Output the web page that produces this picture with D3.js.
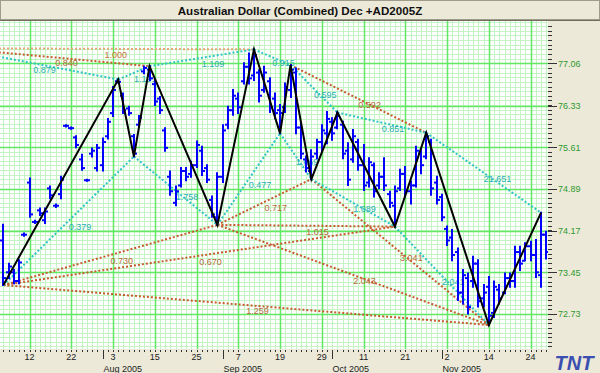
<!DOCTYPE html>
<html><head><meta charset="utf-8">
<script src="https://cdn.jsdelivr.net/npm/d3@7"></script>
<style>
body{margin:0;background:#ece9d8;overflow:hidden}
svg{display:block;font-family:"Liberation Sans",Arial,sans-serif}
</style>
</head><body>
<svg id="c" width="600" height="373"></svg>
<script>
// ---------------- data ----------------
const title = "Australian Dollar (Combined) Dec +AD2005Z";

// daily OHLC bars (bar index = array position, Jul 5 2005 .. Nov 28 2005)
const highs  = [74.27,73.60,73.49,73.66,74.12,75.07,74.34,74.55,74.55,74.93,74.62,75.10,75.99,75.95,75.80,75.48,75.05,75.59,75.65,75.76,
                76.10,76.65,76.78,76.54,76.31,75.82,76.15,77.00,77.01,76.77,76.48,75.94,75.19,74.93,75.25,75.25,75.36,75.71,75.62,75.30,
                74.76,75.16,75.99,76.31,76.60,76.54,77.06,77.23,77.30,76.94,77.00,76.80,76.54,76.34,76.71,77.03,76.97,76.02,75.45,75.56,
                75.74,75.99,76.22,76.11,76.21,76.05,75.68,75.91,75.74,75.65,75.42,75.33,75.16,75.42,74.84,74.93,75.22,75.27,75.02,75.62,
                75.56,75.86,75.74,75.10,74.79,74.24,74.18,73.86,73.49,73.43,73.72,73.66,73.23,73.37,73.29,73.23,73.43,73.43,73.89,73.89,
                73.95,73.98,74.01,74.48,74.15];
const lows   = [73.23,73.35,73.26,73.26,74.08,74.41,74.30,74.44,74.30,74.73,74.58,74.73,75.97,75.93,75.61,75.22,75.03,75.45,75.21,75.21,
                75.76,76.15,76.73,76.20,76.17,75.45,75.97,76.89,76.77,76.34,76.20,75.55,74.79,74.61,74.93,75.04,75.10,75.27,75.13,75.01,
                74.41,74.27,75.01,75.94,76.17,76.20,76.71,76.71,76.77,76.40,76.57,76.22,76.11,75.85,76.22,76.48,75.85,75.42,75.19,75.06,
                75.42,75.53,75.68,75.74,75.94,75.42,74.96,75.36,75.22,74.87,74.93,74.76,74.90,74.87,74.58,74.24,74.87,74.76,74.64,74.93,
                75.16,75.42,74.79,74.64,74.35,73.92,73.66,72.97,72.91,72.74,73.20,72.86,72.86,72.54,72.68,72.91,73.09,73.20,73.20,73.49,
                73.66,73.66,73.37,73.20,73.69];
const opens  = [74.00,73.45,73.45,73.30,74.10,75.00,74.32,74.52,74.35,74.90,74.60,74.80,75.98,75.94,75.78,75.40,75.04,75.50,75.25,75.30,
                75.80,76.20,76.75,76.50,76.28,75.80,76.00,76.92,76.95,76.70,76.45,75.90,75.10,74.65,74.95,75.20,75.15,75.30,75.55,75.25,
                74.70,74.40,75.10,76.00,76.25,76.45,76.75,77.00,76.85,76.90,76.60,76.75,76.45,76.25,76.30,76.60,76.90,75.95,75.40,75.20,
                75.50,75.70,75.85,76.05,75.95,76.00,75.55,75.40,75.70,75.30,75.00,75.30,74.95,75.10,74.80,74.60,74.90,75.15,74.85,74.95,
                75.50,75.45,75.70,75.00,74.75,74.20,74.05,73.80,73.10,73.35,73.30,73.60,73.00,73.20,72.75,73.15,73.10,73.35,73.30,73.80,
                73.65,73.90,73.75,73.40,74.10];
const closes = [73.35,73.55,73.30,73.62,74.10,74.45,74.32,74.47,74.50,74.78,74.60,75.05,75.98,75.94,75.65,75.25,75.04,75.55,75.60,75.70,
                76.05,76.60,76.74,76.25,76.20,75.50,76.12,76.98,76.80,76.40,76.25,75.60,74.85,74.85,75.20,75.10,75.30,75.65,75.20,75.05,
                74.45,75.10,75.90,76.25,76.50,76.30,77.00,76.80,77.20,76.50,76.90,76.30,76.20,76.20,76.65,76.95,75.95,75.50,75.25,75.45,
                75.70,75.90,76.10,75.85,76.15,75.50,75.05,75.80,75.30,74.95,75.35,74.85,75.10,74.95,74.65,74.85,75.15,74.85,74.95,75.55,
                75.30,75.80,74.90,74.70,74.40,74.00,73.75,73.10,73.40,72.85,73.60,72.95,73.10,72.70,73.20,73.00,73.35,73.30,73.80,73.60,
                73.90,73.75,73.45,74.10,73.80];

// x-axis labels
const dayTickIndex  = [5,13,21,29,37,45,53,61,69,77,85,93,101];
const dayTickLabels = ["12","22","3","15","25","7","19","29","11","21","2","14","24"];
const monthStartIndex = [19,42,63,84];
const monthLabels = ["Aug 2005","Sep 2005","Oct 2005","Nov 2005"];

// y-axis labels
const priceTicks = [72.73,73.45,74.17,74.89,75.61,76.33,77.06];
const priceTickLabels = ["72.73","73.45","74.17","74.89","75.61","76.33","77.06"];

// swing pivots (first one lies before the visible data)
const pivotIndex = [-9.27,0,22,25,28,41,48,53,55,59,64,75,81,93,103];
const pivotPrice = [77.32,73.23,76.78,75.45,77.01,74.27,77.30,75.85,77.03,75.06,76.21,74.24,75.86,72.54,74.48];

// ratio lines: [from pivot, to pivot, label]
const tealLines = [[0,2,"0.879"],[1,3,"0.379"],[2,4,"1.191"],[3,5,"1.758"],[4,6,"1.109"],[5,7,"0.477"],
                   [6,8,"0.915"],[7,9,"1.669"],[8,10,"0.595"],[9,11,"1.689"],[10,12,"0.851"],[11,13,"2.041"],[12,14,"21.651"]];
const orangeLines = [[0,4,"0.840"],[1,5,"0.730"],[1,11,"0.670"],[1,13,"1.259"],[5,9,"0.717"],[5,11,"1.015"],
                     [5,13,"2.043"],[8,12,"0.592"],[9,13,"3.041"]];
const paleOrangeLines = [[0,6,"1.000"]];

// ---------------- layout ----------------
const svg = d3.select("#c");
const W = 600, H = 373;
const plot = {left:0, top:21, right:548, bottom:349};

const x = d3.scaleLinear().domain([0, 104]).range([3.4, 3.4 + 104*5.22]);
const y = d3.scaleLinear().domain([72.73, 77.06]).range([314, 63.3]);

// background
svg.append("rect").attr("width",W).attr("height",H).attr("fill","#ece9d8");

// title bar
svg.append("rect").attr("x",0.5).attr("y",0.5).attr("width",W-1).attr("height",19)
   .attr("fill","#ece9d8").attr("stroke","#a09c8c");
svg.append("line").attr("x1",0).attr("x2",W).attr("y1",20.5).attr("y2",20.5).attr("stroke","#6f6c60");
svg.append("text").attr("x",300).attr("y",14.5).attr("text-anchor","middle")
   .attr("font-size",11.6).attr("font-weight","bold").attr("fill","#111").text(title);

// plot clip
svg.append("clipPath").attr("id","pc").append("rect")
   .attr("x",plot.left).attr("y",plot.top).attr("width",plot.right-plot.left).attr("height",plot.bottom-plot.top);
const g = svg.append("g").attr("clip-path","url(#pc)");
g.append("rect").attr("x",plot.left).attr("y",plot.top).attr("width",plot.right-plot.left)
 .attr("height",plot.bottom-plot.top).attr("fill","#ffffff");

// minor grid
const minorX = d3.range(-1, 106);
g.selectAll(".mgx").data(minorX).enter().append("line")
 .attr("x1",d=>Math.round(x(d))+0.5).attr("x2",d=>Math.round(x(d))+0.5)
 .attr("y1",plot.top).attr("y2",plot.bottom).attr("stroke","#c4f4c4").attr("stroke-width",1);
const step = (priceTicks[priceTicks.length-1]-priceTicks[0])/(priceTicks.length-1)/9;
const minorY = d3.range(-9, 72).map(k => priceTicks[0] + k*step);
g.selectAll(".mgy").data(minorY).enter().append("line")
 .attr("y1",d=>Math.round(y(d))+0.5).attr("y2",d=>Math.round(y(d))+0.5)
 .attr("x1",plot.left).attr("x2",plot.right).attr("stroke","#c4f4c4").attr("stroke-width",1);
// major grid
g.selectAll(".Mgx").data(dayTickIndex).enter().append("line")
 .attr("x1",d=>Math.round(x(d))+0.5).attr("x2",d=>Math.round(x(d))+0.5)
 .attr("y1",plot.top).attr("y2",plot.bottom).attr("stroke","#62e862").attr("stroke-width",1.5);
g.selectAll(".Mgy").data(priceTicks).enter().append("line")
 .attr("y1",d=>Math.round(y(d))+0.5).attr("y2",d=>Math.round(y(d))+0.5)
 .attr("x1",plot.left).attr("x2",plot.right).attr("stroke","#62e862").attr("stroke-width",1.5);

// ratio lines (labels hang from the segment midpoint; two crowded labels nudged apart)
const nudge = {"0.879":-3.5, "0.840":3};
function drawRatio(list, color, textColor){
  list.forEach(([a,b,lab])=>{
    const x1=x(pivotIndex[a]), y1=y(pivotPrice[a]), x2=x(pivotIndex[b]), y2=y(pivotPrice[b]);
    g.append("line").attr("x1",x1).attr("y1",y1).attr("x2",x2).attr("y2",y2)
     .attr("stroke",color).attr("stroke-width",2).attr("stroke-dasharray","2,2");
    g.append("text").attr("x",(x1+x2)/2 + (nudge[lab]||0)).attr("y",(y1+y2)/2+9)
     .attr("font-size",9).attr("fill",textColor).text(lab);
  });
}
drawRatio(paleOrangeLines, "#e8a47c", "#c8703c");
drawRatio(orangeLines, "#c85a30", "#b8683a");
drawRatio(tealLines, "#30c4c4", "#28b0b0");

// OHLC bars
const idx = d3.range(highs.length);
const bars = g.append("g").attr("stroke","#0000ff").attr("stroke-width",2);
idx.forEach(i=>{
  const cx = Math.round(x(i));
  bars.append("line").attr("x1",cx).attr("x2",cx).attr("y1",y(highs[i])-1).attr("y2",y(lows[i])+1);
  bars.append("line").attr("x1",cx-3).attr("x2",cx).attr("y1",y(opens[i])).attr("y2",y(opens[i]));
  bars.append("line").attr("x1",cx).attr("x2",cx+3).attr("y1",y(closes[i])).attr("y2",y(closes[i]));
});

// zigzag
const zz = d3.range(1, pivotIndex.length);
g.append("path").datum(zz)
 .attr("d", d3.line().x(k=>x(pivotIndex[k])).y(k=>y(pivotPrice[k])))
 .attr("fill","none").attr("stroke","#000").attr("stroke-width",2);

// right axis
const ax = svg.append("g");
ax.append("rect").attr("x",plot.right).attr("y",plot.top).attr("width",W-plot.right).attr("height",plot.bottom-plot.top).attr("fill","#ece9d8");
minorY.filter(v=>y(v)>plot.top+2 && y(v)<plot.bottom-1).forEach(v=>{
  ax.append("line").attr("x1",plot.right).attr("x2",plot.right+4).attr("y1",Math.round(y(v))+0.5).attr("y2",Math.round(y(v))+0.5)
    .attr("stroke","#333").attr("stroke-width",1);
});
priceTicks.forEach((v,k)=>{
  ax.append("line").attr("x1",plot.right).attr("x2",plot.right+9).attr("y1",Math.round(y(v))+0.5).attr("y2",Math.round(y(v))+0.5)
    .attr("stroke","#333").attr("stroke-width",1);
  ax.append("text").attr("x",plot.right+10).attr("y",y(v)+3.3).attr("font-size",9).attr("fill","#2e9a2e").text(priceTickLabels[k]);
});

// bottom axis
const bx = svg.append("g");
idx.forEach(i=>{
  bx.append("line").attr("x1",Math.round(x(i))+0.5).attr("x2",Math.round(x(i))+0.5).attr("y1",plot.bottom+1).attr("y2",plot.bottom+3)
    .attr("stroke","#333");
});
monthStartIndex.forEach((i,k)=>{
  const px = Math.round(x(i))+0.5;
  bx.append("line").attr("x1",px).attr("x2",px).attr("y1",plot.bottom+1).attr("y2",plot.bottom+10).attr("stroke","#333");
  bx.append("text").attr("x",px).attr("y",371.5).attr("font-size",9).attr("fill","#222").text(monthLabels[k]);
});
dayTickIndex.forEach((i,k)=>{
  bx.append("text").attr("x",x(i)).attr("y",360).attr("text-anchor","middle").attr("font-size",9).attr("fill","#222").text(dayTickLabels[k]);
});

// logo
svg.append("text").attr("x",574).attr("y",369.5).attr("text-anchor","middle").attr("font-size",20)
   .attr("font-weight","bold").attr("font-style","italic").attr("fill","#3a4fb0").text("TNT");
</script>
</body></html>
